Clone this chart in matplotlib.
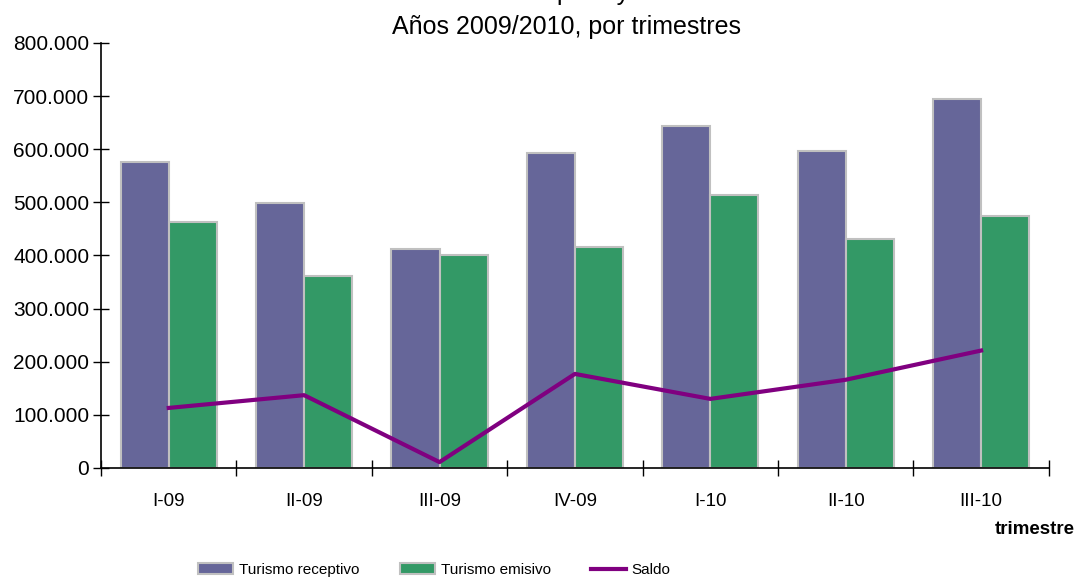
import matplotlib as mpl
import matplotlib.pyplot as plt
import numpy as np

mpl.rcParams['font.family'] = ['Liberation Sans', 'DejaVu Sans']

trimestres = ['I-09', 'II-09', 'III-09', 'IV-09', 'I-10', 'II-10', 'III-10']
receptivo = [576000, 499000, 412000, 593000, 644000, 597000, 695000]
emisivo = [463000, 362000, 401000, 416000, 514000, 431000, 474000]
saldo = [113000, 137000, 11000, 177000, 130000, 166000, 221000]


def fmt_miles(v, pos):
    return '{:,.0f}'.format(v).replace(',', '.')


def main():
    fig = plt.figure(figsize=(10.77, 5.77), dpi=100)
    ax = fig.add_axes([0.0938, 0.189, 0.880, 0.7365])

    x = np.arange(len(trimestres))
    w = 0.355
    b1 = ax.bar(x - w / 2, receptivo, w, color='#666699', edgecolor='#C0C0C0',
                linewidth=1.5, label='Turismo receptivo', zorder=2)
    b2 = ax.bar(x + w / 2, emisivo, w, color='#339966', edgecolor='#C0C0C0',
                linewidth=1.5, label='Turismo emisivo', zorder=2)
    l1, = ax.plot(x, saldo, color='#800080', linewidth=3, label='Saldo',
                  zorder=3)

    ax.set_xlim(-0.5, len(trimestres) - 0.5)
    ax.set_ylim(0, 800000)
    ax.set_yticks(np.arange(0, 800001, 100000))
    ax.yaxis.set_major_formatter(mpl.ticker.FuncFormatter(fmt_miles))

    # ticks between the categories, labels in the middle
    ax.set_xticks(np.arange(-0.5, len(trimestres)), minor=False)
    ax.set_xticklabels([])
    ax.set_xticks(x, minor=True)
    ax.set_xticklabels(trimestres, minor=True)
    ax.tick_params(axis='x', which='major', direction='inout', length=12,
                   width=1, color='black')
    ax.tick_params(axis='x', which='minor', length=0, pad=18, labelsize=13.5)
    ax.tick_params(axis='y', direction='inout', length=11, width=1,
                   labelsize=15, pad=3)

    for s in ['top', 'right']:
        ax.spines[s].set_visible(False)
    for s in ['left', 'bottom']:
        ax.spines[s].set_linewidth(1.2)

    # first title line is cut off by the top edge, as in the original
    fig.text(0.526, 1.0, 'Turismo receptivo y emisivo', ha='center',
             va='baseline', fontsize=18)
    fig.text(0.526, 0.953, 'Años 2009/2010, por trimestres', ha='center',
             va='center', fontsize=18)
    fig.text(0.998, 0.082, 'trimestre', ha='right', va='center',
             fontsize=13.5, fontweight='bold')

    fig.legend([b1, b2, l1], ['Turismo receptivo', 'Turismo emisivo', 'Saldo'],
               loc='center', bbox_to_anchor=(0.4034, 0.012), ncol=3,
               frameon=False, fontsize=11, handlelength=2.3,
               handleheight=0.75, handletextpad=0.4, columnspacing=2.6)

    fig.savefig('out.png', dpi=100)
    plt.close(fig)


if __name__ == '__main__':
    main()
